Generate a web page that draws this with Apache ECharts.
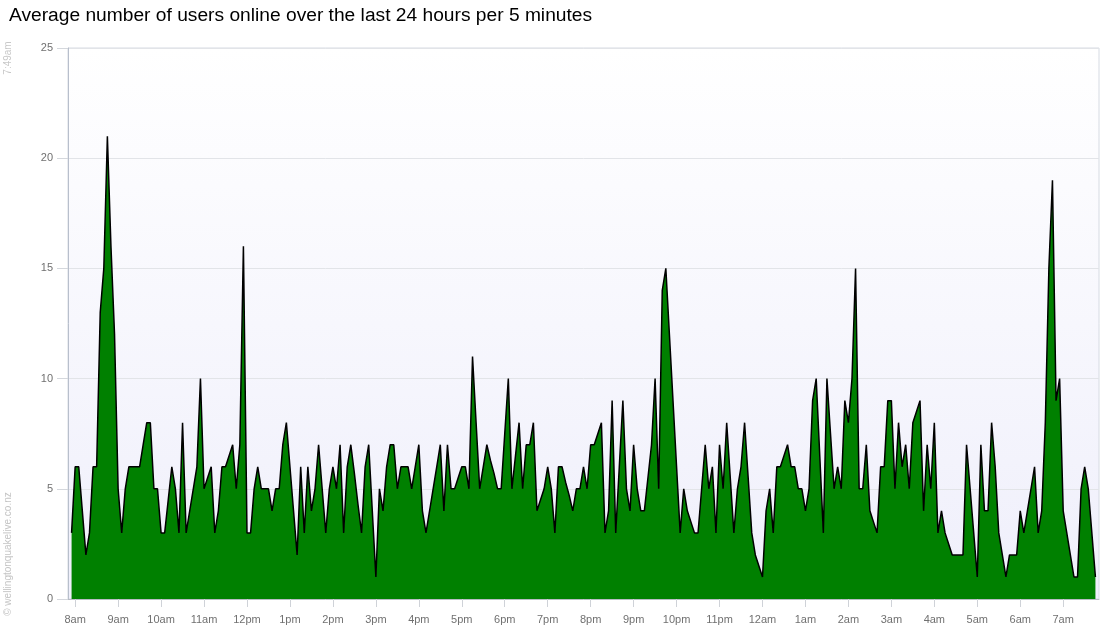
<!DOCTYPE html>
<html>
<head>
<meta charset="utf-8">
<script src="https://cdn.jsdelivr.net/npm/echarts@6/dist/echarts.min.js"></script>
<style>html,body{margin:0;padding:0;background:#fff}#c{width:1100px;height:640px}</style>
</head>
<body>
<div id="c"></div>
<script>
// Hour tick labels along the x axis (first one falls on the 2nd sample)
const hourLabels = ['8am','9am','10am','11am','12pm','1pm','2pm','3pm','4pm','5pm','6pm','7pm',
                    '8pm','9pm','10pm','11pm','12am','1am','2am','3am','4am','5am','6am','7am'];
const yTicks = [0, 5, 10, 15, 20, 25];
const updatedAt = '7:49am';
const credit = '\u00a9 wellingtonquakelive.co.nz';
const titleText = 'Average number of users online over the last 24 hours per 5 minutes';

// Average users online, one value per 5 minutes
const users = [
  3,6,6,4,2,3,6,6,13,15,21,16,12,5,3,5,6,6,6,6,7,8,8,5,
  5,3,3,4.5,6,5,3,8,3,4,5,6,10,5,5.5,6,3,4,6,6,6.5,7,5,7,
  16,3,3,5,6,5,5,5,4,5,5,7,8,6,4,2,6,3,6,4,5,7,5,3,
  5,6,5,7,3,6,7,5.7,4.3,3,6,7,4,1,5,4,6,7,7,5,6,6,
  6,5,6,7,4,3,4,5,6,7,4,7,5,5,5.5,6,6,5,11,8,5,6,7,6.3,
  5.7,5,5,7.5,10,5,6.5,8,5,7,7,8,4,4.5,5,6,5,3,6,6,5.3,4.7,
  4,5,5,6,5,7,7,7.5,8,3,4,9,3,6,9,5,4,7,5,4,4,5.5,7,10,
  5,14,15,12,9,6,3,5,4,3.5,3,3,5,7,5,6,3,7,5,8,5.5,3,5,6,
  8,5.5,3,2,1.5,1,4,5,3,6,6,6.5,7,6,6,5,5,4,5,9,10,6.5,3,10,
  7.5,5,6,5,9,8,10,15,5,5,7,4,3.5,3,6,6,9,9,5,8,6,7,5,8,
  8.5,9,4,7,5,8,3,4,3,2.5,2,2,2,2,7,5,3,1,7,4,4,8,6,3,
  2,1,2,2,2,4,3,4,5,6,3,4,8,15,19,9,10,4,3,2,1,1,5,6,
  5,3,1
];

// one empty slot before and after the samples, as in the reference
const slots = [];
for (let k = 0; k < users.length + 2; k++) slots.push(String(k));
const seriesData = [null].concat(users, [null]);
const isHour = (k) => k >= 2 && (k - 2) % 12 === 0 && (k - 2) / 12 < hourLabels.length;

const FONT = 'Liberation Sans, Arial, sans-serif';
const chart = echarts.init(document.getElementById('c'), null, {renderer: 'canvas'});
chart.setOption({
  animation: false,
  backgroundColor: '#ffffff',
  textStyle: {fontFamily: FONT},
  title: {
    text: titleText,
    left: 4, top: 1,
    textStyle: {fontSize: 19.2, fontWeight: 'normal', color: '#000', fontFamily: FONT}
  },
  grid: {
    left: 68, top: 48, width: 1031, height: 551,
    show: true,
    borderColor: '#d6dbe3', borderWidth: 1,
    backgroundColor: new echarts.graphic.LinearGradient(0, 0, 0, 1, [
      {offset: 0, color: '#ffffff'},
      {offset: 1, color: '#efeffb'}
    ])
  },
  xAxis: {
    type: 'category',
    data: slots,
    boundaryGap: false,
    axisLine: {show: true, lineStyle: {color: '#b8bcc4', width: 1}},
    axisTick: {show: true, interval: (k) => isHour(k), length: 8, lineStyle: {color: '#cfd2d8'}},
    axisLabel: {
      interval: (k) => isHour(k),
      formatter: (v, k) => hourLabels[(k - 2) / 12],
      color: '#707070', fontSize: 11, margin: 15,
      fontFamily: FONT
    },
    splitLine: {show: false}
  },
  yAxis: {
    type: 'value',
    min: yTicks[0], max: yTicks[yTicks.length - 1], interval: 5,
    axisLine: {show: true, lineStyle: {color: '#b8bfcc', width: 1}},
    axisTick: {show: true, length: 11, lineStyle: {color: '#d4d7dc'}},
    axisLabel: {color: '#707070', fontSize: 11, margin: 15, fontFamily: FONT},
    splitLine: {show: true, lineStyle: {color: '#e2e4e8', width: 1}}
  },
  series: [{
    type: 'line',
    data: seriesData,
    symbol: 'none',
    connectNulls: false,
    lineStyle: {color: '#000000', width: 1.5},
    areaStyle: {color: '#008000', opacity: 1},
    z: 3
  }],
  graphic: [
    {
      type: 'text', x: 8, y: 58, rotation: Math.PI / 2,
      style: {text: updatedAt, fill: '#c8c8c8', fontSize: 10, align: 'center', verticalAlign: 'middle',
              fontFamily: FONT}
    },
    {
      type: 'text', x: 8, y: 554, rotation: Math.PI / 2,
      style: {text: credit, fill: '#c4c4c4', fontSize: 10, align: 'center', verticalAlign: 'middle',
              fontFamily: FONT}
    }
  ]
});
</script>
</body>
</html>
